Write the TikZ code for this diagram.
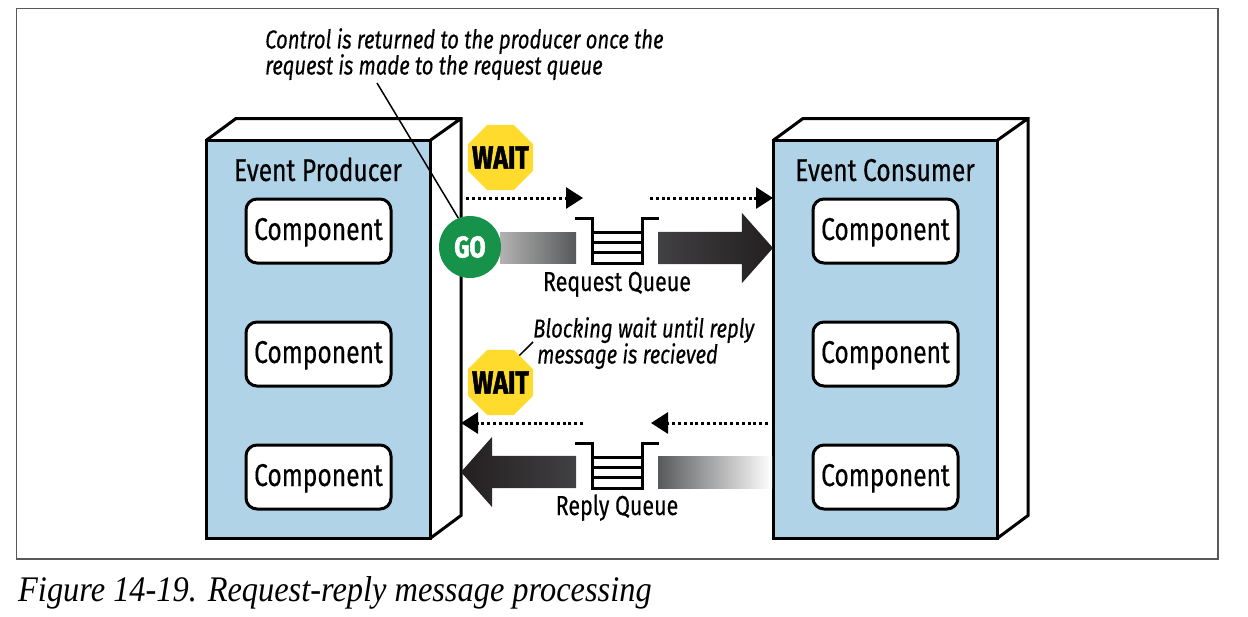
\documentclass[tikz,border=0pt]{standalone}
\usepackage{fontspec}
\setmainfont{Fira Sans}[FakeStretch=0.78,FakeBold=0.35,BoldFeatures={FakeBold=1.6}]
\newfontfamily\capfont{Liberation Serif}[FakeStretch=0.9]
\usetikzlibrary{arrows.meta, positioning, shapes.geometric, shapes.arrows}
\definecolor{boxblue}{HTML}{B0D3E8}
\definecolor{signyellow}{HTML}{FFDB2D}
\definecolor{gogreen}{HTML}{16924A}
\definecolor{darkA}{HTML}{231F20}
\definecolor{darkB}{HTML}{414042}
\definecolor{midgray}{HTML}{58595B}

\newcommand{\boxdepth}[1]{
   \draw[edge] (#1.north west) -- ++(30,-22) -- ++(225,0) -- ++(0,397) -- (#1.south east)
        (#1.north east) -- ++(31,-22);
}
\newcommand{\queuerungs}[1]{
   \draw[edge] ([shift={(-42pt,22.5pt)}]#1.center) -- ++(17,0) -- ++(0,45) -- ++(50,0) -- ++(0,-45) -- ++(17,0);
   \foreach \rungy in {8.5,-1.5,-12}
      \draw[edge] ([shift={(-25pt,\rungy pt)}]#1.center) -- ++(50,0);
}

\begin{document}
\begin{tikzpicture}[x=1pt,y=-1pt,node distance=123pt,on grid,
   edge/.style={line width=3pt},
   basebox/.style={rectangle,draw,line width=3pt,fill=boxblue,minimum width=224pt,minimum height=398pt,inner sep=0pt,outer sep=0pt},
   comp/.style={rectangle,rounded corners=11pt,draw,line width=3pt,fill=white,minimum width=145pt,minimum height=64pt,inner sep=0pt,text height=22pt,text depth=4pt,font=\fontsize{31.5}{34}\selectfont},
   title/.style={anchor=base,font=\fontsize{31.5}{34}\selectfont,inner sep=0pt},
   note/.style={font=\fontsize{26}{26}\selectfont\itshape,align=left,inner sep=0pt},
   waitsign/.style={regular polygon,regular polygon sides=8,fill=signyellow,minimum size=70.4pt,inner sep=0pt,outer sep=0pt,
      label={[inner sep=0pt,font=\fontsize{32}{34}\selectfont\bfseries]center:WAIT}},
   dotarrow/.style={line width=3pt,dash pattern=on 3pt off 2.8pt,-{Triangle[length=17pt,width=21pt]}},
   heavy/.style={single arrow,single arrow head extend=19pt,single arrow tip angle=97,single arrow head indent=0pt,minimum height=115pt,minimum width=70pt,text height=32pt,text depth=0pt,text width=0pt,inner sep=0pt,outer sep=0pt},
   queuebox/.style={rectangle,minimum width=84pt,minimum height=45pt,inner sep=0pt,outer sep=0pt},
   qlabel/.style={anchor=base,font=\fontsize{27.5}{30}\selectfont,inner sep=0pt}]
   \useasboundingbox (0,0) rectangle (1248,616);
   % outer frame and caption
   \draw[line width=1.3pt,black!65] (16.5,8.5) rectangle (1218,559);
   \node[anchor=base west,inner sep=0pt,font=\fontsize{36}{40}\selectfont\capfont\itshape] (caption) at (18,601) {Figure 14-19. Request-reply message processing};

   % producer
   \node[basebox] (producer) at (318,339.5) {};
   \boxdepth{producer}
   \node[title] (prodtitle) at (318,181) {Event Producer};
   \node[comp] (pa) at (318.5,231) {Component};
   \node[comp] (pb) [below=of pa] {Component};
   \node[comp] (pc) [below=of pb] {Component};

   % consumer
   \node[basebox] (consumer) at (885,339.5) {};
   \boxdepth{consumer}
   \node[title] (constitle) at (885,181) {Event Consumer};
   \node[comp] (ca) at (885.5,231) {Component};
   \node[comp] (cb) [below=of ca] {Component};
   \node[comp] (cc) [below=of cb] {Component};

   % queues
   \node[queuebox] (reqq) at (617,240.5) {};
   \queuerungs{reqq}
   \node[qlabel] (reqlabel) at (617,291) {Request Queue};
   \node[queuebox] (repq) at (617,465.5) {};
   \queuerungs{repq}
   \node[qlabel] (replabel) at (617,515) {Reply Queue};

   % message flow
   \node[rectangle,left color=black!30,right color=midgray,minimum width=76pt,minimum height=31pt,inner sep=0pt] (reqbar) at (538,247.5) {};
   \node[heavy,left color=darkB,right color=darkA,anchor=tip] (reqarrow) at (773,248) {};
   \node[rectangle,left color=midgray,right color=white,minimum width=114pt,minimum height=32pt,inner sep=0pt] (repbar) at (715,472) {};
   \node[heavy,shape border rotate=180,left color=darkA,right color=darkB,anchor=tip] (reparrow) at (461,472) {};

   \coordinate (reqout) at (466,198);
   \coordinate (reqhalf) at (583,198);
   \coordinate (reqback) at (650,198);
   \coordinate (repout) at (768,423);
   \coordinate (rephalf) at (651,423);
   \coordinate (repback) at (583,423);
   \coordinate (repend) at (461,423);
   \draw[dotarrow] (reqout) -- (reqhalf);
   \draw[dotarrow] (reqback) -- (consumer.west |- reqback);
   \draw[dotarrow] (repout) -- (rephalf);
   \draw[dotarrow] (repback) -- (repend);

   % signs
   \node[waitsign] (waita) at (500.5,157.5) {};
   \node[waitsign] (waitb) at (500.5,382.5) {};
   \node[circle,fill=gogreen,text=white,minimum size=62pt,inner sep=0pt,font=\fontsize{30}{32}\selectfont\bfseries] (go) at (470,247) {GO};

   % notes
   \node[note,anchor=north west] (ctrlnote) at (265,28) {Control is returned to the producer once the\\request is made to the request queue};
   \node[note,anchor=north west] (blocknote) at (533,317) {Blocking wait until reply\\\hspace*{4pt}message is recieved};
   \coordinate (ctrlfoot) at (377,83);
   \coordinate (blockfoot) at (533,342);
   \draw[line width=1.5pt] (ctrlfoot) -- (go.112);
   \draw[line width=1.5pt] (blockfoot) -- (waitb.55);
\end{tikzpicture}
\end{document}
